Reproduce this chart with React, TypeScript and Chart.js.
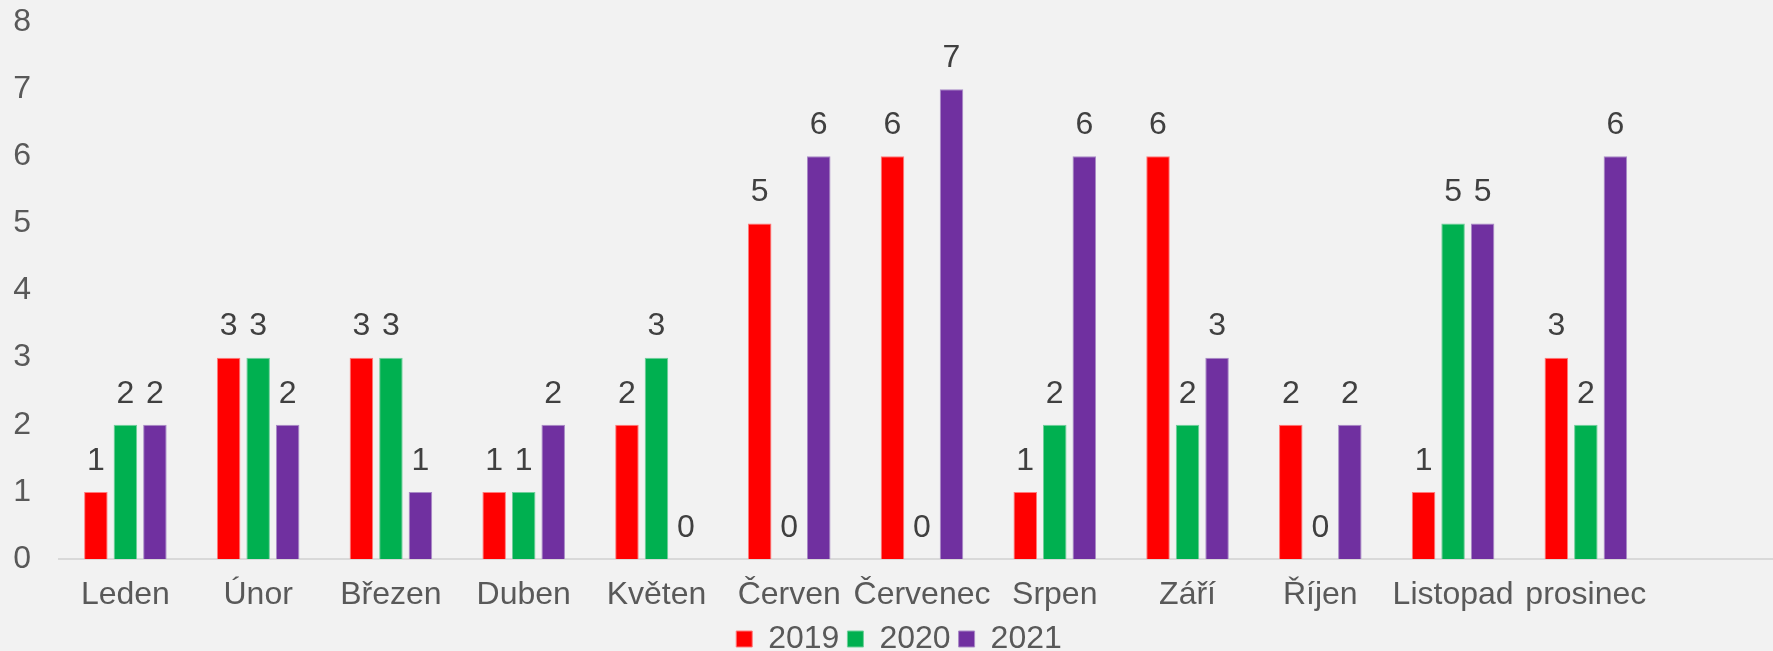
import React, { useEffect, useRef } from "react";
import { Chart, registerables } from "chart.js";

Chart.register(...registerables);

const categories = [
  "Leden", "Únor", "Březen", "Duben", "Květen", "Červen",
  "Červenec", "Srpen", "Září", "Říjen", "Listopad", "prosinec", "",
];
const seriesNames = ["2019", "2020", "2021"];
const values2019 = [1, 3, 3, 1, 2, 5, 6, 1, 6, 2, 1, 3, null];
const values2020 = [2, 3, 3, 1, 3, 0, 0, 2, 2, 0, 5, 2, null];
const values2021 = [2, 2, 1, 2, 0, 6, 7, 6, 3, 2, 5, 6, null];
const seriesColors = ["#FF0000", "#00B050", "#7030A0"];
const seriesEdgeColors = ["#FF7A7A", "#6FCF9A", "#A98BC6"];
const yMin = 0;
const yMax = 8;
const yStep = 1;

const FONT = "'Liberation Sans', Arial, sans-serif";
// canvas is slightly larger than the window: the plot area runs past the right edge as in the reference
const CANVAS_W = 1785;
const CANVAS_H = 665;

const bgPlugin = {
  id: "bgFill",
  beforeDraw(chart: any) {
    const ctx = chart.ctx;
    ctx.save();
    ctx.fillStyle = "#F2F2F2";
    ctx.fillRect(0, 0, chart.width, chart.height);
    ctx.restore();
  },
};

const valueLabelPlugin = {
  id: "valueLabels",
  afterDatasetsDraw(chart: any) {
    const ctx = chart.ctx;
    ctx.save();
    ctx.font = `32px ${FONT}`;
    ctx.fillStyle = "#404040";
    ctx.textAlign = "center";
    ctx.textBaseline = "middle";
    chart.data.datasets.forEach((ds: any, i: number) => {
      const meta = chart.getDatasetMeta(i);
      meta.data.forEach((el: any, j: number) => {
        const v = ds.data[j];
        if (v === null || v === undefined) return;
        ctx.fillText(String(v), el.x, el.y - 31);
      });
    });
    ctx.restore();
  },
};

export default function App() {
  const ref = useRef<HTMLCanvasElement | null>(null);

  useEffect(() => {
    document.body.style.margin = "0";
    document.body.style.overflow = "hidden";
    const canvas = ref.current;
    if (!canvas) return;
    const data = [values2019, values2020, values2021];
    const chart = new Chart(canvas, {
      type: "bar",
      data: {
        labels: categories,
        datasets: seriesNames.map((name, i) => ({
          label: name,
          data: data[i],
          backgroundColor: seriesColors[i],
          borderColor: seriesEdgeColors[i],
          borderWidth: 1,
          borderSkipped: "start",
          categoryPercentage: 0.667,
          barPercentage: 0.797,
        })),
      },
      options: {
        responsive: false,
        maintainAspectRatio: false,
        animation: false,
        devicePixelRatio: 1,
        layout: {
          padding: { left: 13, right: 0, top: 22, bottom: 0 },
        },
        plugins: {
          tooltip: { enabled: false },
          title: { display: false },
          legend: {
            display: true,
            position: "bottom",
            labels: {
              boxWidth: 16,
              boxHeight: 16,
              padding: 8,
              color: "#595959",
              font: { family: FONT, size: 32 },
            },
          },
        },
        scales: {
          x: {
            grid: { display: false, drawTicks: false },
            border: { display: true, color: "#D9D9D9", width: 2 },
            ticks: {
              color: "#595959",
              padding: 24,
              maxRotation: 0,
              autoSkip: false,
              font: { family: FONT, size: 32, lineHeight: 0.75 },
            },
            afterFit(s: any) {
              s.paddingLeft = 0;
              s.paddingRight = 0;
              s.height = 56;
            },
          },
          y: {
            min: yMin,
            max: yMax,
            grid: { display: false, drawTicks: false },
            border: { display: false },
            ticks: {
              stepSize: yStep,
              color: "#595959",
              padding: 28,
              font: { family: FONT, size: 32 },
            },
            afterFit(s: any) {
              s.paddingTop = 0;
              s.paddingBottom = 0;
              s.width = 46;
            },
          },
        },
      },
      plugins: [bgPlugin, valueLabelPlugin],
    } as any);
    return () => chart.destroy();
  }, []);

  return (
    <canvas
      ref={ref}
      width={CANVAS_W}
      height={CANVAS_H}
      style={{ display: "block", width: `${CANVAS_W}px`, height: `${CANVAS_H}px` }}
    />
  );
}
